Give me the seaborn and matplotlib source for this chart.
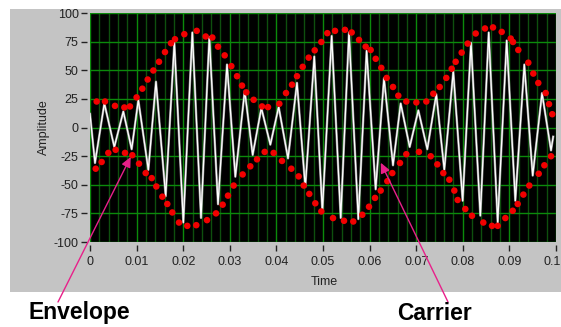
import numpy as np
import matplotlib
matplotlib.use("Agg")
import matplotlib.pyplot as plt
from matplotlib.patches import Rectangle
from matplotlib.ticker import MultipleLocator
from matplotlib.transforms import ScaledTranslation
import seaborn as sns

# ---- data -------------------------------------------------------------
# carrier: time (s) and amplitude of each half-cycle extreme
carrier_t = [0.0, 0.00107, 0.00308, 0.00522, 0.00715, 0.00894, 0.01037, 0.01252,
             0.01416, 0.01624, 0.01810, 0.02003, 0.02196, 0.02382, 0.02561, 0.02747,
             0.02940, 0.03119, 0.03320, 0.03491, 0.03677, 0.03870, 0.04049, 0.04249,
             0.04442, 0.04620, 0.04813, 0.04986, 0.05186, 0.05380, 0.05558, 0.05758,
             0.05936, 0.06130, 0.06309, 0.06502, 0.06667, 0.06860, 0.07046, 0.07238,
             0.07431, 0.07603, 0.07796, 0.07997, 0.08176, 0.08376, 0.08556, 0.08749,
             0.08942, 0.09127, 0.09320, 0.09500, 0.09700, 0.09893, 0.09940]
carrier_v = [12, -31, 21, -17, 14, -19, 24, -37, 40, -60, 74, -83, 83, -79, 79, -67,
             55, -43, 32, -24, 17, -15, 18, -27, 39, -52, 62, -73, 80, -79, 83, -80,
             67, -54, 43, -33, 21, -17, 15, -19, 29, -37, 49, -64, 74, -77, 83, -83,
             76, -64, 55, -42, 30, -20, -8]

# envelope markers, upper branch
upper_t = [0.00143, 0.00322, 0.00536, 0.00737, 0.00858, 0.0100, 0.01123, 0.01238,
           0.01359, 0.01481, 0.01609, 0.01738, 0.01824, 0.02024, 0.0229, 0.02483,
           0.02625, 0.02747, 0.0289, 0.03033, 0.03155, 0.03262, 0.03355, 0.03512,
           0.03691, 0.0382, 0.04063, 0.04206, 0.04335, 0.04442, 0.04564, 0.04693,
           0.04822, 0.04964, 0.05093, 0.05258, 0.05472, 0.05616, 0.05773, 0.05916,
           0.06023, 0.06131, 0.06251, 0.06366, 0.06502, 0.06616, 0.06788, 0.07003,
           0.07217, 0.07367, 0.07504, 0.07646, 0.07762, 0.07847, 0.07976, 0.08105,
           0.08277, 0.08476, 0.08648, 0.08835, 0.09028, 0.09077, 0.09191, 0.09406,
           0.09513, 0.0962, 0.09779, 0.0985, 0.0992]
upper_v = [22.7, 22.7, 18.9, 17.5, 18.4, 26.3, 33.9, 41.9, 49.8, 57.4, 65.9, 73.6,
           77.1, 81.5, 84.4, 79.5, 78.6, 70.6, 63.0, 53.6, 44.8, 36.6, 30.7, 24.2,
           18.4, 17.8, 20.7, 30.1, 37.4, 44.8, 53.0, 61.0, 67.4, 74.7, 82.4, 84.4,
           85.3, 83.0, 76.5, 70.6, 67.7, 60.0, 52.1, 43.3, 35.4, 27.8, 22.7, 21.9,
           22.7, 29.5, 35.4, 43.3, 51.3, 57.4, 65.4, 73.3, 82.1, 86.5, 87.4, 83.5,
           77.7, 74.7, 67.7, 56.6, 47.1, 38.9, 30.1, 20.4, 11.6]

# envelope markers, lower branch
lower_t = [0.00122, 0.0025, 0.00393, 0.0055, 0.00751, 0.00908, 0.01052, 0.01195,
           0.01324, 0.01423, 0.01552, 0.01659, 0.01766, 0.0191, 0.02088, 0.02281,
           0.02511, 0.02704, 0.02847, 0.02961, 0.03083, 0.03276, 0.0344, 0.03584,
           0.03748, 0.03941, 0.0412, 0.0432, 0.04478, 0.04586, 0.04706, 0.04835,
           0.04964, 0.05215, 0.05451, 0.0565, 0.05843, 0.05987, 0.06116, 0.06238,
           0.0638, 0.06487, 0.06652, 0.06788, 0.0706, 0.07311, 0.07453, 0.07582,
           0.07711, 0.07818, 0.0789, 0.08054, 0.08197, 0.0844, 0.08627, 0.08749,
           0.08913, 0.09071, 0.09178, 0.093, 0.09427, 0.09629, 0.0975, 0.09893]
lower_v = [-36.0, -30.1, -22.2, -19.5, -22.2, -24.2, -31.6, -39.8, -44.2, -51.5,
           -60.4, -66.8, -74.2, -83.0, -85.9, -85.3, -80.9, -75.0, -67.4, -59.5,
           -50.7, -41.0, -33.9, -27.8, -21.3, -22.2, -29.2, -36.0, -42.7, -50.7,
           -58.0, -66.2, -73.3, -79.1, -81.5, -82.1, -76.2, -69.2, -61.5, -55.1,
           -46.9, -39.8, -31.0, -23.3, -21.3, -25.1, -32.2, -39.8, -45.6, -55.1,
           -63.3, -71.2, -77.1, -83.0, -85.9, -85.9, -79.1, -72.7, -66.8, -58.6,
           -50.7, -40.4, -33.0, -25.1]

x_ticks = [0.0, 0.01, 0.02, 0.03, 0.04, 0.05, 0.06, 0.07, 0.08, 0.09, 0.1]
x_tick_labels = ["0", "0.01", "0.02", "0.03", "0.04", "0.05", "0.06", "0.07",
                 "0.08", "0.09", "0.1"]
y_ticks = [-100, -75, -50, -25, 0, 25, 50, 75, 100]
y_tick_labels = ["-100", "-75", "-50", "-25", "0", "25", "50", "75", "100"]

# arrow targets (data coordinates) for the callouts
envelope_tip = (0.00873, -25.7)
carrier_tip = (0.0624, -30.8)

# ---- figure -----------------------------------------------------------
plt.rcParams["font.family"] = ["Liberation Sans", "DejaVu Sans"]
W, H = 561, 327
fig = plt.figure(figsize=(W / 100, H / 100), dpi=100)
fig.patch.set_facecolor("white")

# grey instrument panel behind the graph
fig.add_artist(Rectangle((10 / W, 35 / H), 551 / W, 283 / H,
                         transform=fig.transFigure, facecolor="#c4c4c4",
                         edgecolor="none", zorder=0))

ax = fig.add_axes([90 / W, 85 / H, 466 / W, 229 / H])
ax.set_facecolor("black")

sns.lineplot(x=carrier_t, y=carrier_v, ax=ax, color="#8a8a8a", lw=1.7,
             estimator=None, sort=False, zorder=3)
sns.lineplot(x=carrier_t, y=carrier_v, ax=ax, color="white", lw=0.9,
             estimator=None, sort=False, zorder=3)
sns.scatterplot(x=upper_t, y=upper_v, ax=ax, color="#f20000", s=22,
                edgecolor="none", zorder=4)
sns.scatterplot(x=lower_t, y=lower_v, ax=ax, color="#f20000", s=22,
                edgecolor="none", zorder=4)

ax.set_xlim(0, 0.1)
ax.set_ylim(-100, 100)
ax.set_xticks(x_ticks)
ax.set_xticklabels(x_tick_labels)
ax.set_yticks(y_ticks)
ax.set_yticklabels(y_tick_labels)
ax.xaxis.set_minor_locator(MultipleLocator(0.002))

ax.set_axisbelow(True)
ax.grid(which="major", color="#0b8a0b", lw=1.0)
ax.grid(which="minor", axis="x", color="#0e4f0e", lw=1.0)

for side in ["left", "bottom"]:
    ax.spines[side].set_position(("outward", 2.2))
for s in ax.spines.values():
    s.set_visible(False)

ax.tick_params(which="major", direction="out", length=4, width=1,
               color="#222222", labelsize=9, labelcolor="#222222")
ax.tick_params(axis="y", pad=2)
ax.tick_params(axis="x", pad=4)
ax.tick_params(which="minor", length=0)

# keep the last time label inside the figure edge
last = ax.get_xticklabels()[-1]
last.set_transform(last.get_transform()
                   + ScaledTranslation(-4 / 100, 0, fig.dpi_scale_trans))

ax.set_xlabel("Time", fontsize=9, color="#222222", va="center", ha="center")
ax.xaxis.set_label_coords(0.502, -0.175)
ax.set_ylabel("Amplitude", fontsize=9, color="#222222", va="center", ha="center")
ax.yaxis.set_label_coords(-0.099, 0.5)

# callouts
fig.text(28 / W, (H - 319) / H, "Envelope", fontsize=16.5, fontweight="bold",
         color="black", ha="left", va="baseline")
fig.text(397 / W, (H - 320) / H, "Carrier", fontsize=16.5, fontweight="bold",
         color="black", ha="left", va="baseline")

arrow_kw = dict(arrowstyle="-|>,head_length=0.6,head_width=0.28",
                color="#e8208a", lw=1.0, shrinkA=0, shrinkB=0)
for tip, start in [(envelope_tip, (58, 25)), (carrier_tip, (448, 25))]:
    a = ax.annotate("", xy=tip, xycoords="data", xytext=start,
                    textcoords="figure pixels", arrowprops=arrow_kw,
                    annotation_clip=False, zorder=6)
    a.arrow_patch.set_clip_on(False)

fig.savefig("out.png", dpi=100)
